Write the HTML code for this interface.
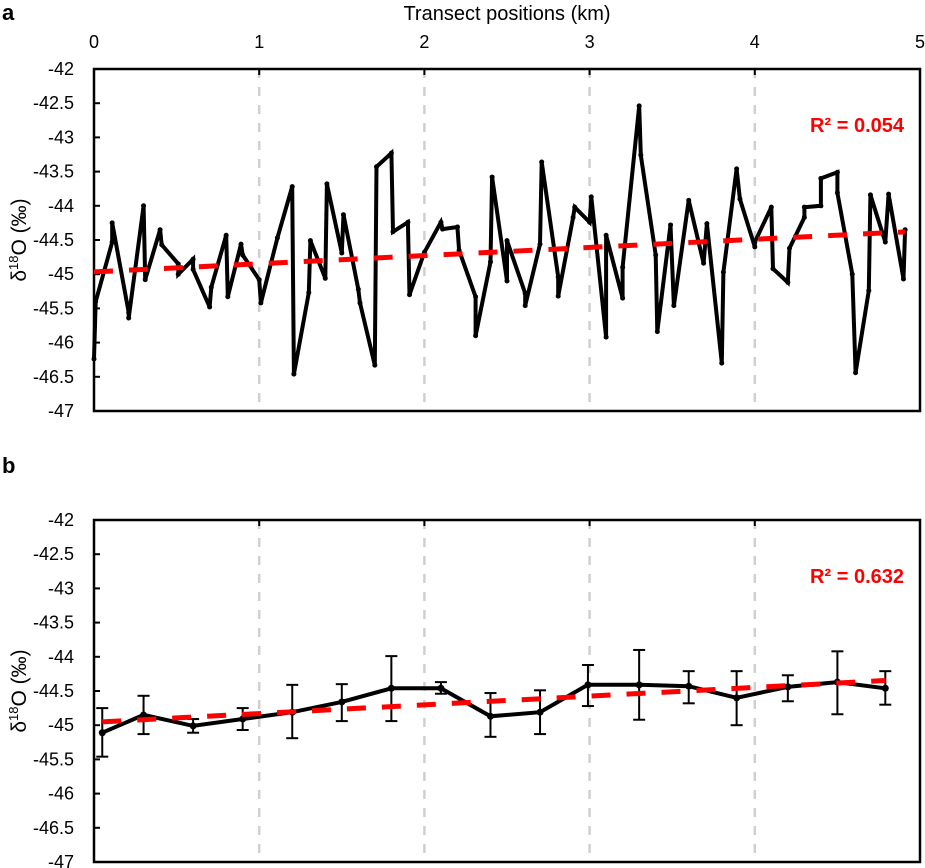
<!DOCTYPE html>
<html><head><meta charset="utf-8">
<style>
html,body{margin:0;padding:0;background:#fff;}
svg{display:block;font-family:"Liberation Sans",sans-serif;}
</style></head>
<body>
<svg id="chart" width="925" height="868" viewBox="0 0 925 868" xmlns="http://www.w3.org/2000/svg">
</svg>
<script>
// Panel a data (km, ‰)
const aX = [0,0.01,0.11,0.11,0.21,0.21,0.30,0.31,0.40,0.41,0.51,0.51,0.60,0.60,0.70,0.71,0.80,0.81,0.89,0.90,1.00,1.01,1.11,1.20,1.21,1.30,1.31,1.40,1.41,1.50,1.51,1.60,1.61,1.70,1.71,1.80,1.81,1.90,1.91,2.00,2.10,2.11,2.20,2.21,2.31,2.31,2.40,2.41,2.50,2.50,2.61,2.61,2.70,2.71,2.81,2.81,2.90,2.91,3.00,3.01,3.10,3.10,3.20,3.20,3.30,3.31,3.40,3.41,3.49,3.51,3.60,3.69,3.71,3.80,3.81,3.89,3.91,4.00,4.00,4.10,4.11,4.20,4.21,4.30,4.30,4.40,4.40,4.50,4.50,4.59,4.61,4.69,4.70,4.79,4.81,4.90,4.91];
const aY = [-46.24,-45.40,-44.53,-44.25,-45.56,-45.64,-44.00,-45.08,-44.35,-44.57,-44.85,-45.00,-44.78,-44.93,-45.48,-45.19,-44.43,-45.33,-44.56,-44.72,-45.08,-45.42,-44.47,-43.72,-46.46,-45.27,-44.51,-45.06,-43.68,-44.69,-44.13,-45.22,-45.42,-46.33,-43.43,-43.23,-44.38,-44.24,-45.30,-44.68,-44.24,-44.34,-44.31,-44.65,-45.33,-45.90,-44.82,-43.58,-45.10,-44.51,-45.28,-45.46,-44.56,-43.36,-45.04,-45.32,-44.17,-44.02,-44.24,-43.87,-45.92,-44.43,-45.35,-44.90,-42.54,-43.26,-44.72,-45.84,-44.28,-45.46,-43.92,-44.84,-44.26,-46.30,-44.97,-43.46,-43.90,-44.60,-44.53,-44.02,-44.92,-45.12,-44.62,-44.17,-44.02,-44.00,-43.60,-43.51,-43.81,-45.00,-46.44,-45.24,-43.84,-44.53,-43.83,-45.07,-44.35];
// Panel b data
const bX = [0.05,0.30,0.60,0.90,1.20,1.50,1.80,2.10,2.40,2.70,2.99,3.30,3.60,3.89,4.20,4.50,4.79];
const bY = [-45.11,-44.85,-45.01,-44.91,-44.81,-44.66,-44.46,-44.46,-44.87,-44.81,-44.41,-44.41,-44.43,-44.60,-44.44,-44.37,-44.46];
const bHi = [-44.75,-44.57,-44.91,-44.75,-44.41,-44.40,-43.99,-44.37,-44.53,-44.49,-44.12,-43.90,-44.21,-44.21,-44.27,-43.92,-44.21];
const bLo = [-45.46,-45.13,-45.11,-45.07,-45.19,-44.94,-44.94,-44.54,-45.17,-45.13,-44.72,-44.92,-44.68,-45.00,-44.65,-44.84,-44.70];
const xTicks = [0,1,2,3,4,5];
const yTicks = [-42,-42.5,-43,-43.5,-44,-44.5,-45,-45.5,-46,-46.5,-47];
const r2Labels = ["R² = 0.054","R² = 0.632"];

const NS="http://www.w3.org/2000/svg";
const svg=document.getElementById('chart');
function mk(tag,attrs,parent){const e=document.createElementNS(NS,tag);for(const k in attrs)e.setAttribute(k,attrs[k]);(parent||svg).appendChild(e);return e;}
const X0=94,X1=920;
const xs=v=>X0+(v-0)/5*(X1-X0);
function fit(x,y){const n=x.length;let sx=0,sy=0,sxx=0,sxy=0;for(let i=0;i<n;i++){sx+=x[i];sy+=y[i];sxx+=x[i]*x[i];sxy+=x[i]*y[i];}const m=(n*sxy-sx*sy)/(n*sxx-sx*sx);return {m,b:(sy-m*sx)/n};}

function panel(top,bot,name,opts){
  const ys=v=>top+(-42-v)/5*(bot-top);
  const g=mk('g',{});
  
  
  xTicks.slice(1,5).forEach(t=>{const l=mk('line',{x1:xs(t),x2:xs(t),y1:top,y2:bot,stroke:'#d0d0d0','stroke-width':2.5,'stroke-dasharray':'9,9'},g);
    });
  const fr=mk('rect',{x:X0,y:top,width:X1-X0,height:bot-top,fill:'none',stroke:'#000','stroke-width':2.5},g);
  
  yTicks.forEach(t=>{const y=ys(t);
    const tk=mk('line',{x1:X0,x2:X0+6,y1:y,y2:y,stroke:'#000','stroke-width':2},g);
    
    const tx=mk('text',{x:74,y:y+6,'text-anchor':'end','font-size':18,fill:'#000'},g);tx.textContent=t;
    });
  xTicks.slice(1,5).forEach(t=>{const tk=mk('line',{x1:xs(t),x2:xs(t),y1:top,y2:top+6,stroke:'#000','stroke-width':2},g);
    });
  if(opts.xlabels){xTicks.forEach(t=>{const tx=mk('text',{x:xs(t),y:top-21,'text-anchor':'middle','font-size':18},g);tx.textContent=t;
    });}
  const yt=mk('text',{transform:`translate(26,${(top+bot)/2}) rotate(-90)`,'text-anchor':'middle','font-size':21},g);
  yt.innerHTML='δ<tspan dy="-8" font-size="13">18</tspan><tspan dy="8">O (‰)</tspan>';
  
  if(opts.hi){opts.x.forEach((v,i)=>{const x=xs(v);
    const eg=mk('g',{stroke:'#000','stroke-width':2},g);
    
    mk('line',{x1:x,x2:x,y1:ys(opts.hi[i]),y2:ys(opts.lo[i])},eg);
    mk('line',{x1:x-6,x2:x+6,y1:ys(opts.hi[i]),y2:ys(opts.hi[i])},eg);
    mk('line',{x1:x-6,x2:x+6,y1:ys(opts.lo[i]),y2:ys(opts.lo[i])},eg);});}
  const pts=opts.x.map((v,i)=>xs(v).toFixed(1)+','+ys(opts.y[i]).toFixed(1)).join(' ');
  const pl=mk('polyline',{points:pts,fill:'none',stroke:'#000','stroke-width':4,'stroke-linejoin':'miter'},g);
  
  opts.x.forEach((v,i)=>{const c=mk('circle',{cx:xs(v),cy:ys(opts.y[i]),r:opts.hi?3.5:2.5,fill:'#000'},g);
    });
  const f=fit(opts.x,opts.y);const xa=opts.x[0],xb=opts.x[opts.x.length-1];
  const tl=mk('line',{x1:xs(xa),y1:ys(f.m*xa+f.b),x2:xs(xb),y2:ys(f.m*xb+f.b),stroke:'#ff0000','stroke-width':5,'stroke-dasharray':'19,16'},g);
  
  const r=mk('text',{x:904,y:top+63,'text-anchor':'end','font-size':20,'font-weight':'bold',fill:'#ff0000'},g);r.textContent=opts.r2;
  
  const pl2=mk('text',{x:2,y:opts.labY,'font-size':22,'font-weight':'bold'},g);pl2.textContent=opts.letter;
  
}
const tt=mk('text',{x:507,y:20,'text-anchor':'middle','font-size':20});tt.textContent='Transect positions (km)';


panel(69,411,'panel-a',{x:aX,y:aY,r2:r2Labels[0],xlabels:true,letter:'a',labY:20});
panel(520,862,'panel-b',{x:bX,y:bY,hi:bHi,lo:bLo,r2:r2Labels[1],xlabels:false,letter:'b',labY:473});
</script>
</body></html>
